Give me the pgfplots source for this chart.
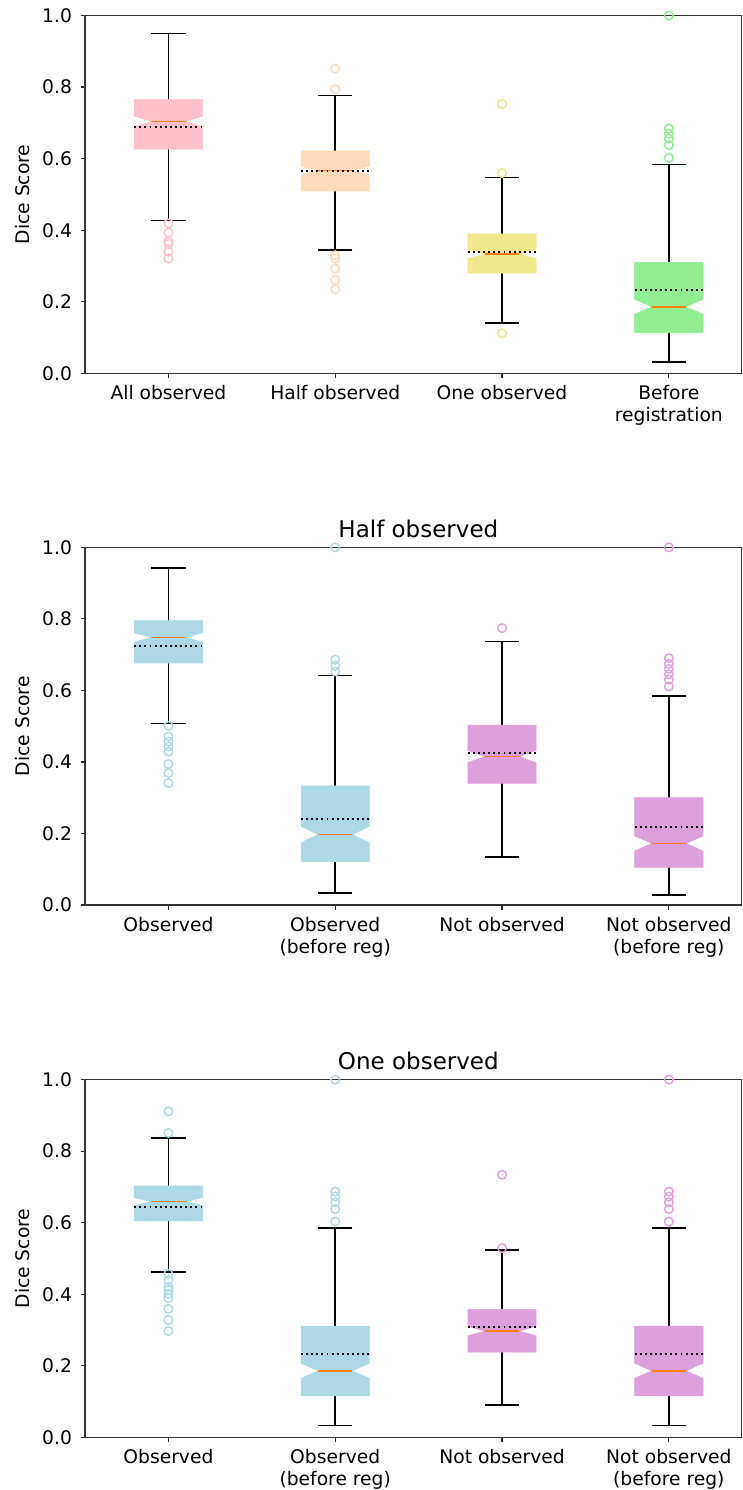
\documentclass[border=0pt]{standalone}
\usepackage{fontspec}
\setmainfont{DejaVu Sans}
\usepackage{pgfplots}
\pgfplotsset{compat=1.18}
\usepgfplotslibrary{statistics}

\definecolor{cpink}{HTML}{FFC0CB}
\definecolor{cpeach}{HTML}{FFDAB9}
\definecolor{ckhaki}{HTML}{F0E68C}
\definecolor{cgreen}{HTML}{90EE90}
\definecolor{cblue}{HTML}{ADD8E6}
\definecolor{cplum}{HTML}{DDA0DD}
\definecolor{cmed}{HTML}{FF7F0E}

\newcommand\tfont{\fontsize{18.7}{22.4}\selectfont}

\pgfplotsset{
  dicebox/.style={
    scale only axis, width=656.7pt, height=357.7pt,
    xmin=0.5, xmax=4.437, ymin=0, ymax=1,
    xtick={1,2,3,4}, ytick={0,0.2,0.4,0.6,0.8,1.0},
    xtick pos=bottom, ytick pos=left,
    tick align=outside, major tick length=4.5pt,
    every tick/.style={black!85, line width=1.3pt},
    axis line style={black!80, line width=1.3pt},
    tick label style={font=\tfont, /pgf/number format/assume math mode=true},
    yticklabel style={/pgf/number format/fixed, /pgf/number format/fixed zerofill,
      /pgf/number format/precision=1, xshift=-5pt},
    xticklabel style={align=center, yshift=-4pt},
    ylabel={Dice Score},
    ylabel style={font=\tfont, at={([xshift=-51.5pt]axis description cs:0,0.5)}, anchor=south},
    title style={font=\fontsize{23}{27}\selectfont, at={(axis description cs:0.5,1)}, anchor=south, xshift=5pt},
    boxplot/draw direction=y,
  },
  bx/.style n args={3}{%
    draw=black, line width=1.6pt, mark=o,
    mark options={draw=#1, fill=none, line width=1.4pt, solid},
    mark size=4.3pt,
    boxplot/box extend=0.41,
    boxplot/whisker extend=0.205,
    boxplot/draw/lower whisker/.code={%
      \draw[black, line width=1.6pt, solid, line cap=butt]
        (boxplot box cs:\pgfplotsboxplotvalue{lower quartile},0.5) --
        (boxplot box cs:\pgfplotsboxplotvalue{lower whisker},0.5)
        (boxplot whisker cs:\pgfplotsboxplotvalue{lower whisker},0) --
        (boxplot whisker cs:\pgfplotsboxplotvalue{lower whisker},1);
    },
    boxplot/draw/upper whisker/.code={%
      \draw[black, line width=1.6pt, solid, line cap=butt]
        (boxplot box cs:\pgfplotsboxplotvalue{upper quartile},0.5) --
        (boxplot box cs:\pgfplotsboxplotvalue{upper whisker},0.5)
        (boxplot whisker cs:\pgfplotsboxplotvalue{upper whisker},0) --
        (boxplot whisker cs:\pgfplotsboxplotvalue{upper whisker},1);
    },
    boxplot/draw/box/.code={%
      \filldraw[fill=#1, draw=#1, line width=0.5pt, solid]
        (boxplot box cs:\pgfplotsboxplotvalue{lower quartile},0) --
        (boxplot box cs:#2,0) --
        (boxplot box cs:\pgfplotsboxplotvalue{median},0.25) --
        (boxplot box cs:#3,0) --
        (boxplot box cs:\pgfplotsboxplotvalue{upper quartile},0) --
        (boxplot box cs:\pgfplotsboxplotvalue{upper quartile},1) --
        (boxplot box cs:#3,1) --
        (boxplot box cs:\pgfplotsboxplotvalue{median},0.75) --
        (boxplot box cs:#2,1) --
        (boxplot box cs:\pgfplotsboxplotvalue{lower quartile},1) -- cycle;
      \draw[cmed, line width=1.8pt, line cap=butt, solid]
        (boxplot box cs:\pgfplotsboxplotvalue{median},0.25) --
        (boxplot box cs:\pgfplotsboxplotvalue{median},0.75);
    },
    boxplot/draw/median/.code={},
    boxplot/draw/average/.code={%
      \draw[black, line width=1.9pt, dash pattern=on 1.9pt off 3.2pt]
        (boxplot box cs:\pgfplotsboxplotvalue{average},0) --
        (boxplot box cs:\pgfplotsboxplotvalue{average},1);
    },
  },
  % an empty first plot outside the visible range, so that every real box is drawn alike
  spacer/.style={forget plot, draw=none, mark=none,
    boxplot prepared={draw position=-9, lower whisker=0.5, lower quartile=0.5,
      median=0.5, upper quartile=0.5, upper whisker=0.5},
    boxplot/draw/box/.code={}, boxplot/draw/median/.code={},
    boxplot/draw/lower whisker/.code={}, boxplot/draw/upper whisker/.code={}},
}

\begin{document}
\begin{tikzpicture}
\useasboundingbox (0pt,0pt) rectangle (742pt,-1490pt);

% ---------- top ----------
\begin{axis}[dicebox, at={(85pt,-373.3pt)}, anchor=south west,
  xticklabels={All observed, Half observed, One observed, {Before\\registration}}]
\addplot[spacer] coordinates {};
\addplot[bx={cpink}{0.689}{0.719}, boxplot prepared={draw position=1,
  lower whisker=0.427, lower quartile=0.627, median=0.704, upper quartile=0.765,
  upper whisker=0.950, average=0.689}]
  coordinates {(1,0.419) (1,0.393) (1,0.368) (1,0.362) (1,0.340) (1,0.321)};
\addplot[bx={cpeach}{0.555}{0.579}, boxplot prepared={draw position=2,
  lower whisker=0.345, lower quartile=0.509, median=0.567, upper quartile=0.622,
  upper whisker=0.777, average=0.565}]
  coordinates {(2,0.852) (2,0.794) (2,0.330) (2,0.321) (2,0.293) (2,0.261) (2,0.235)};
\addplot[bx={ckhaki}{0.321}{0.345}, boxplot prepared={draw position=3,
  lower whisker=0.140, lower quartile=0.280, median=0.333, upper quartile=0.390,
  upper whisker=0.547, average=0.340}]
  coordinates {(3,0.753) (3,0.560) (3,0.112)};
\addplot[bx={cgreen}{0.165}{0.207}, boxplot prepared={draw position=4,
  lower whisker=0.032, lower quartile=0.114, median=0.186, upper quartile=0.310,
  upper whisker=0.584, average=0.233}]
  coordinates {(4,1.0) (4,0.684) (4,0.670) (4,0.656) (4,0.638) (4,0.602)};
\end{axis}

% ---------- middle ----------
\begin{axis}[dicebox, at={(85pt,-905pt)}, anchor=south west, title={Half observed},
  xticklabels={Observed, {Observed\\(before reg)}, Not observed, {Not observed\\(before reg)}}]
\addplot[spacer] coordinates {};
\addplot[bx={cblue}{0.735}{0.761}, boxplot prepared={draw position=1,
  lower whisker=0.507, lower quartile=0.676, median=0.748, upper quartile=0.795,
  upper whisker=0.942, average=0.725}]
  coordinates {(1,0.501) (1,0.471) (1,0.457) (1,0.443) (1,0.429) (1,0.394) (1,0.369) (1,0.341)};
\addplot[bx={cblue}{0.174}{0.220}, boxplot prepared={draw position=2,
  lower whisker=0.033, lower quartile=0.121, median=0.197, upper quartile=0.333,
  upper whisker=0.642, average=0.241}]
  coordinates {(2,1.0) (2,0.686) (2,0.669) (2,0.653)};
\addplot[bx={cplum}{0.398}{0.432}, boxplot prepared={draw position=3,
  lower whisker=0.135, lower quartile=0.340, median=0.415, upper quartile=0.503,
  upper whisker=0.737, average=0.426}]
  coordinates {(3,0.774)};
\addplot[bx={cplum}{0.151}{0.193}, boxplot prepared={draw position=4,
  lower whisker=0.028, lower quartile=0.105, median=0.172, upper quartile=0.300,
  upper whisker=0.585, average=0.219}]
  coordinates {(4,1.0) (4,0.690) (4,0.674) (4,0.660) (4,0.645) (4,0.630) (4,0.611)};
\end{axis}

% ---------- bottom ----------
\begin{axis}[dicebox, at={(85pt,-1437.3pt)}, anchor=south west, title={One observed},
  xticklabels={Observed, {Observed\\(before reg)}, Not observed, {Not observed\\(before reg)}}]
\addplot[spacer] coordinates {};
\addplot[bx={cblue}{0.648}{0.670}, boxplot prepared={draw position=1,
  lower whisker=0.462, lower quartile=0.605, median=0.659, upper quartile=0.703,
  upper whisker=0.837, average=0.645}]
  coordinates {(1,0.911) (1,0.851) (1,0.457) (1,0.440) (1,0.420) (1,0.412) (1,0.401) (1,0.389) (1,0.359) (1,0.328) (1,0.297)};
\addplot[bx={cblue}{0.165}{0.207}, boxplot prepared={draw position=2,
  lower whisker=0.033, lower quartile=0.116, median=0.186, upper quartile=0.311,
  upper whisker=0.585, average=0.233}]
  coordinates {(2,1.0) (2,0.687) (2,0.673) (2,0.657) (2,0.638) (2,0.603)};
\addplot[bx={cplum}{0.284}{0.310}, boxplot prepared={draw position=3,
  lower whisker=0.091, lower quartile=0.238, median=0.297, upper quartile=0.358,
  upper whisker=0.523, average=0.308}]
  coordinates {(3,0.734) (3,0.529)};
\addplot[bx={cplum}{0.165}{0.207}, boxplot prepared={draw position=4,
  lower whisker=0.033, lower quartile=0.116, median=0.186, upper quartile=0.311,
  upper whisker=0.585, average=0.233}]
  coordinates {(4,1.0) (4,0.687) (4,0.673) (4,0.657) (4,0.638) (4,0.603)};
\end{axis}
\end{tikzpicture}
\end{document}
